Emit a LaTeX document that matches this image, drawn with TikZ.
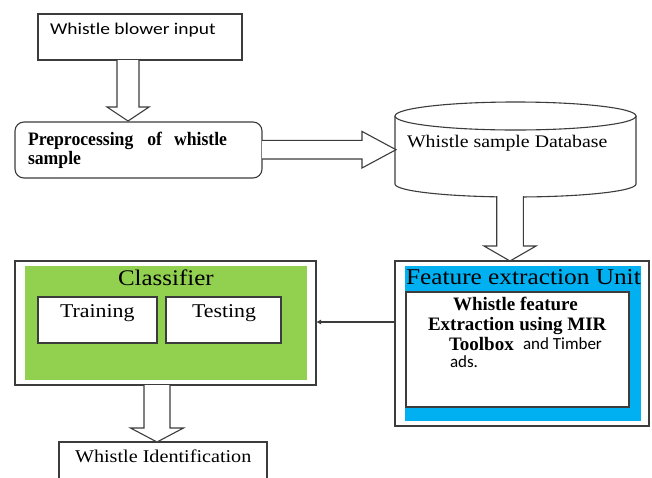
\documentclass[tikz,border=0pt]{standalone}
\usepackage{fontspec}
\setmainfont[FakeStretch=1.12]{Liberation Serif}
\newfontfamily\plainserif{Liberation Serif}
\newfontfamily\narrowserif[FakeStretch=0.93]{Liberation Serif}
\newfontfamily\sansw[FakeStretch=1.18]{Carlito}
\newfontfamily\sansn{Carlito}
\usetikzlibrary{arrows.meta,calc}
\definecolor{cgreen}{RGB}{146,208,80}
\definecolor{cblue}{RGB}{0,176,240}
\definecolor{cline}{RGB}{60,60,60}
\newcommand\fsz[1]{\fontsize{#1}{#1}\selectfont}
% vertical block arrow: start, tip, half shaft, half head, head length
\newcommand\vblk[5]{\draw[blk] let \p1=(#1), \p2=(#2) in
  (\x2-#3pt,\y1) -- (\x2-#3pt,\y2+#5pt) -- (\x2-#4pt,\y2+#5pt) -- (\x2,\y2)
  -- (\x2+#4pt,\y2+#5pt) -- (\x2+#3pt,\y2+#5pt) -- (\x2+#3pt,\y1);}
% horizontal block arrow (to the right)
\newcommand\hblk[5]{\draw[blk] let \p1=(#1), \p2=(#2) in
  (\x1,\y2+#3pt) -- (\x2-#5pt,\y2+#3pt) -- (\x2-#5pt,\y2+#4pt) -- (\x2,\y2)
  -- (\x2-#5pt,\y2-#4pt) -- (\x2-#5pt,\y2-#3pt) -- (\x1,\y2-#3pt);}
\begin{document}
\begin{tikzpicture}[x=1pt,y=-1pt,
  box/.style={draw=cline,line width=1.1pt,fill=white,anchor=north west,inner sep=0pt,outer sep=0pt},
  fillbox/.style={anchor=north west,inner sep=0pt,outer sep=0pt},
  blk/.style={draw=cline,line width=1.1pt,fill=white,line join=miter},
  lbl/.style={inner sep=0pt,outer sep=0pt,anchor=base west,text=black},
  boldlbl/.style={lbl,font=\plainserif\bfseries\fsz{#1}}]
\useasboundingbox (0,0) rectangle (652,477);
\clip (0,0) rectangle (652,477);
\fill[white] (0,0) rectangle (652,477);

% Whistle blower input
\node[box,minimum width=204,minimum height=46] (b1) at (38,14) {};
\node[lbl,font=\sansw\fsz{16.5}] (t1) at (50,34) {Whistle blower input};

% Preprocessing
\node[box,rounded corners=9pt,minimum width=247,minimum height=56] (b2) at (15,122) {};
\node[lbl,font=\narrowserif\bfseries\fsz{19}] (t2a) at (28,145) {Preprocessing\hspace{14pt}of\hspace{12pt}whistle};
\node[lbl,font=\narrowserif\bfseries\fsz{19}] (t2b) at (28,164) {sample};

% Database cylinder
\node[inner sep=0pt,minimum width=241,minimum height=95,anchor=north west] (db) at (395,102) {};
\draw[cline,line width=1.1pt,fill=white] (395,116) -- (395,184) arc[start angle=180,end angle=360,x radius=120.5,y radius=-13] -- (636,116);
\draw[cline,line width=1.1pt,fill=white] (515.5,116) ellipse[x radius=120.5,y radius=14];
\node[lbl,font=\fsz{17.7}] (t3) at (407,147) {Whistle sample Database};

% Feature extraction unit
\node[box,minimum width=254,minimum height=165] (fe) at (395,261) {};
\node[fillbox,fill=cblue,minimum width=236,minimum height=155] (feb) at (405,266) {};
\node[lbl,font=\fsz{22.6}] (t4) at (406,284) {Feature extraction Unit};
\node[box,minimum width=223,minimum height=115] (fei) at (406,292) {};
\node[boldlbl=19] (t5a) at (453,310) {Whistle feature};
\node[boldlbl=19] (t5b) at (428,330) {Extraction using MIR};
\node[boldlbl=19] (t5c) at (449,350) {Toolbox};
\node[lbl,font=\sansn\fsz{17}] (t5d) at (523,349) {and Timber};
\node[lbl,font=\sansn\fsz{17}] (t5e) at (450,367) {ads.};

% Classifier
\node[box,minimum width=301,minimum height=124] (cl) at (15,261) {};
\node[fillbox,fill=cgreen,minimum width=282,minimum height=114] (clg) at (25,266) {};
\node[lbl,font=\fsz{22.3}] (t6) at (118,285) {Classifier};
\node[box,minimum width=119,minimum height=46] (tr) at (38,297) {};
\node[box,minimum width=115,minimum height=46] (te) at (166,297) {};
\node[lbl,font=\fsz{19.5}] (t7) at (60,317) {Training};
\node[lbl,font=\fsz{19.5}] (t8) at (192,317) {Testing};

% Whistle Identification
\node[box,minimum width=208,minimum height=60] (wi) at (59,442) {};
\node[lbl,font=\fsz{18}] (t9) at (75,462) {Whistle Identification};

% connectors
\coordinate (a1s) at (128,60);   \coordinate (a1e) at (128,121);
\coordinate (a2s) at (262,149.7); \coordinate (a2e) at (396,149.7);
\coordinate (a3s) at (510,196);  \coordinate (a3e) at (510,261);
\coordinate (a4s) at (157,385);  \coordinate (a4e) at (157,442);
\coordinate (a5s) at (395,322);  \coordinate (a5e) at (316,322);
\vblk{a1s}{a1e}{11}{21}{14}
\hblk{a2s}{a2e}{9.3}{18.3}{34}
\vblk{a3s}{a3e}{13.3}{26}{15}
\vblk{a4s}{a4e}{13}{26.5}{14}
\draw[cline,line width=1.1pt,-{Latex[length=5pt,width=5pt]}] (a5s) -- (a5e);
\end{tikzpicture}
\end{document}
